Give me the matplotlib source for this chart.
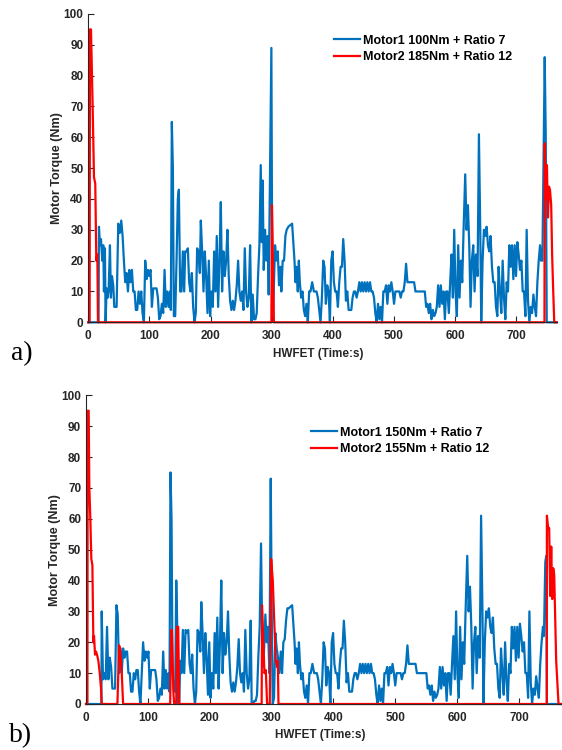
import matplotlib
matplotlib.use("Agg")
import matplotlib.pyplot as plt
import numpy as np

# (time s, torque Nm)
motor1_a_start = [
    (0, 0), (16.8, 0), (17.4, 31), (19.1, 25), (20.7, 27), (22.9, 20), (24.5, 25), (25.6, 10), (27.2, 24),
    (28.3, 0), (29.9, 11), (31.6, 8), (33.2, 10), (35.4, 25), (37.0, 8), (38.7, 15), (40.8, 12), (42.5, 5),
    (44.6, 5), (46.3, 5), (49.0, 32), (51.7, 29), (53.9, 33), (56.1, 28), (58.2, 20), (60.4, 13), (62.6, 16),
    (64.8, 10), (67.0, 17), (69.1, 13), (71.3, 17), (73.5, 10), (75.7, 10), (77.8, 4), (80.0, 4), (82.2, 10),
    (84.4, 6), (86.6, 10), (88.7, 3), (90.9, 0), (93.1, 20), (95.3, 14), (97.4, 17), (99.6, 15), (101.8, 17),
    (104.0, 5), (106.2, 11), (108.3, 11), (111.6, 11), (113.8, 8), (116.0, 1), (118.1, 2), (120.3, 6),
    (122.5, 3), (124.7, 17), (126.8, 5), (129.0, 10), (131.2, 5), (133.4, 10), (135.0, 4), (136.6, 65),
    (138.3, 50), (139.9, 2), (142.1, 2), (144.3, 20), (146.4, 40), (148.1, 43), (150.2, 10), (152.4, 10),
    (154.6, 23), (156.8, 10), (158.4, 23), (160.6, 23), (162.8, 24), (164.9, 13), (167.1, 10), (169.3, 16),
    (171.5, 5), (173.7, 0), (175.8, 3), (178.0, 24), (180.2, 23), (182.4, 16), (184.0, 33), (186.2, 23),
    (188.4, 10), (190.5, 23), (192.7, 15), (194.9, 3), (197.1, 20), (199.2, 2), (201.4, 10), (203.6, 5),
    (205.8, 23), (208.0, 10), (210.1, 28), (212.3, 5), (214.5, 20), (216.7, 39), (218.8, 10), (221.0, 23),
    (223.2, 15), (225.4, 20), (227.5, 30), (229.7, 15), (231.9, 7), (234.1, 4), (236.3, 7), (238.4, 4),
    (240.6, 7), (242.8, 12), (245.0, 20), (247.1, 10), (249.3, 7), (251.5, 10), (253.7, 4), (255.9, 24),
    (258.0, 10), (260.2, 5), (262.4, 8), (264.6, 25), (266.7, 0), (268.9, 9), (271.1, 1), (273.3, 1),
    (275.4, 3), (277.6, 15), (279.8, 25), (282.0, 51), (283.6, 26), (285.2, 46), (286.9, 17), (289.1, 30),
    (291.2, 20), (293.4, 28), (295.0, 9), (297.2, 50), (299.4, 89), (301.0, 2), (302.1, 2), (305.4, 25),
    (307.6, 20), (309.8, 23), (311.9, 12), (314.1, 18), (315.7, 10), (317.9, 20), (320.1, 20), (322.3, 28),
    (324.4, 30), (327.2, 31),
]

motor1_b_start = [
    (0, 0), (24.9, 0), (25.4, 30), (27.5, 8), (29.7, 10), (31.8, 8), (34.0, 25), (36.2, 8), (38.4, 15),
    (40.6, 12), (42.7, 5), (44.8, 5), (47.0, 5), (49.2, 32), (51.3, 29), (53.5, 10), (55.7, 18), (57.8, 10),
    (60.0, 18), (62.2, 15), (64.3, 17), (66.4, 17), (68.6, 10), (70.8, 10), (72.9, 4), (75.1, 4), (77.3, 10),
    (79.5, 8), (81.5, 11), (83.7, 11), (85.9, 4), (88.0, 0), (90.2, 10), (92.3, 20), (94.6, 14), (96.6, 17),
    (98.8, 15), (101.0, 17), (103.1, 5), (105.3, 11), (111.8, 11), (113.9, 8), (116.1, 1), (118.2, 2),
    (120.4, 5), (122.6, 3), (124.8, 17), (126.9, 5), (129.0, 11), (131.2, 5), (133.3, 10), (135.0, 4),
    (136.6, 75), (138.3, 60), (139.9, 10), (142.0, 4), (144.2, 4), (145.9, 40), (147.5, 25), (149.0, 0),
    (150.7, 0), (152.4, 14), (154.5, 10), (156.6, 24), (158.8, 10), (161.0, 24), (163.2, 23), (165.3, 24),
    (167.5, 13), (169.6, 10), (171.7, 16), (173.9, 5), (176.1, 0), (178.2, 4), (180.4, 24), (182.6, 23),
    (184.8, 17), (186.4, 33), (188.5, 23), (190.7, 10), (192.9, 23), (195.0, 15), (197.2, 3), (199.3, 20),
    (201.4, 2), (203.6, 10), (205.8, 5), (208.0, 23), (210.1, 10), (212.3, 28), (214.4, 5), (216.6, 20),
    (218.7, 40), (220.9, 10), (223.1, 23), (225.2, 16), (227.4, 20), (229.6, 30), (231.7, 16), (233.8, 7),
    (236.0, 4), (238.2, 7), (240.3, 4), (242.5, 7), (244.7, 12), (246.9, 21), (249.0, 10), (251.1, 7),
    (253.3, 10), (255.4, 4), (257.6, 24), (259.8, 10), (262.0, 5), (264.1, 8), (266.3, 27), (267.9, 0),
    (270.0, 0), (272.2, 1), (274.4, 1), (276.5, 3), (278.6, 15), (280.8, 25), (283.0, 52), (284.6, 27),
    (286.2, 12), (287.8, 17), (290.0, 29), (292.2, 20), (294.3, 25), (296.5, 10), (298.7, 73), (300.3, 30),
    (301.9, 0), (304.0, 2), (306.2, 23), (308.3, 18), (310.5, 15), (312.7, 10), (314.9, 17), (317.0, 10),
    (319.1, 20), (321.3, 21), (323.4, 27), (325.6, 31), (327.8, 31),
]

# same drive cycle in both cases between ~333 s and ~739 s
motor1_cruise = [
    (333.3, 32), (337.2, 20), (338.8, 13), (340.4, 18), (342.6, 10), (344.3, 20), (345.9, 13), (348.1, 8),
    (350.3, 10), (352.5, 4), (354.6, 2), (356.8, 6), (359.0, 0), (361.2, 10), (363.4, 10), (366.1, 13),
    (368.9, 10), (373.2, 10), (375.4, 8), (377.6, 4), (379.8, 0), (382.0, 8), (384.2, 20), (386.3, 18),
    (388.5, 6), (390.7, 12), (392.9, 10), (395.1, 0), (397.3, 20), (399.5, 23), (401.6, 13), (403.8, 10),
    (406.0, 10), (408.2, 5), (410.4, 13), (412.6, 18), (414.8, 18), (416.9, 27), (419.1, 20), (421.3, 7),
    (423.5, 10), (425.7, 4), (430.1, 4), (432.2, 8), (434.4, 10), (436.6, 10), (438.8, 8), (441.0, 10),
    (443.2, 13), (445.4, 10), (447.5, 13), (449.7, 10), (451.9, 13), (454.1, 10), (456.3, 13), (458.5, 10),
    (460.7, 13), (462.8, 10), (465.0, 10), (467.2, 8), (469.4, 3), (471.6, 0), (473.8, 6), (476.0, 1),
    (478.1, 5), (480.3, 0), (482.5, 10), (484.7, 10), (486.9, 12), (489.1, 6), (491.3, 12), (493.4, 10),
    (495.6, 13), (497.8, 10), (500.0, 6), (502.2, 10), (508.7, 10), (510.9, 8), (513.1, 10), (515.3, 10),
    (517.5, 13), (519.7, 19), (521.9, 13), (532.8, 13), (535.0, 10), (550.3, 10), (552.5, 5), (554.6, 6),
    (556.8, 3), (559.0, 6), (561.2, 1), (563.4, 4), (565.6, 2), (567.8, 3), (569.9, 5), (572.1, 12),
    (574.3, 5), (576.5, 12), (578.7, 6), (580.9, 10), (583.1, 1), (585.2, 10), (587.4, 10), (589.6, 3),
    (591.8, 13), (594.0, 22), (596.2, 8), (598.4, 30), (600.5, 10), (602.7, 2), (604.9, 25), (607.1, 8),
    (609.3, 20), (611.5, 13), (613.7, 30), (616.4, 48), (618.6, 30), (620.8, 38), (623.0, 25), (625.1, 5),
    (627.3, 20), (629.5, 25), (631.7, 10), (633.9, 22), (636.6, 15), (638.8, 61), (641.0, 30), (642.6, 0),
    (644.8, 20), (647.0, 30), (649.2, 28), (651.4, 31), (653.6, 25), (655.7, 23), (657.9, 28), (660.1, 18),
    (662.3, 13), (664.5, 13), (666.7, 5), (668.9, 2), (671.0, 18), (673.2, 10), (675.4, 3), (677.6, 20),
    (679.8, 8), (682.0, 1), (684.2, 13), (686.3, 10), (688.5, 25), (690.7, 18), (692.9, 25), (695.1, 14),
    (697.3, 25), (699.5, 15), (701.6, 26), (703.8, 22), (706.0, 17), (708.2, 20), (710.4, 10), (712.6, 10),
    (714.8, 2), (716.9, 30), (719.1, 7), (721.3, 0), (723.5, 5), (725.7, 3), (727.9, 9), (730.1, 5),
    (732.2, 2), (734.4, 13), (736.6, 20), (738.8, 25),
]

motor1_a_end = [(740.4, 20), (742.6, 20), (744.8, 60), (746.4, 86), (748.1, 60), (749.7, 0), (766, 0)]
motor1_b_end = [(740.4, 22), (742.6, 46), (744.2, 48), (745.2, 0), (768, 0)]

motor2_a = [
    (0, 0), (2.2, 0), (2.7, 95), (4.4, 95), (7.1, 70), (9.3, 47), (11.4, 45), (13.1, 20), (14.8, 22),
    (15.8, 0), (299.4, 0), (300.3, 38), (302.0, 20), (303.5, 0), (746.0, 0), (746.4, 58), (748.3, 40),
    (750.0, 51), (751.7, 34), (753.4, 44), (755.0, 43), (757.0, 38), (758.5, 22), (760.0, 12), (762.0, 0),
    (766, 0),
]

motor2_b = [
    (0, 0), (2.3, 0), (2.7, 95), (4.3, 95), (5.4, 70), (7.0, 60), (8.6, 47), (10.3, 45), (11.9, 20),
    (13.0, 22), (14.6, 16), (16.2, 17), (17.8, 16), (20.0, 14), (22.2, 10), (24.3, 5), (25.4, 0),
    (50.8, 0), (53.5, 19), (55.1, 18), (57.8, 10), (60.0, 0), (136.1, 0), (137.8, 24), (138.8, 24),
    (141.5, 3), (142.6, 0), (145.9, 0), (147.0, 25), (149.1, 25), (150.7, 0), (284.0, 0), (284.7, 32),
    (288.5, 10), (290.7, 11), (292.8, 0), (297.1, 0), (299.3, 47), (302.0, 40), (304.7, 25), (306.9, 14),
    (309.0, 12), (310.1, 14), (311.2, 0), (745.0, 0), (745.2, 61), (747.3, 57), (748.9, 57), (750.5, 35),
    (752.2, 51), (753.8, 34), (755.4, 44), (757.0, 42), (760.2, 14), (764.0, 0), (768, 0),
]

labels_a = ["Motor1 100Nm + Ratio 7", "Motor2 185Nm + Ratio 12"]
labels_b = ["Motor1 150Nm + Ratio 7", "Motor2 155Nm + Ratio 12"]

plt.rcParams['font.family'] = ['Liberation Sans', 'DejaVu Sans']
plt.rcParams['font.weight'] = 'bold'

BLUE = '#0072BD'
RED = '#FF0000'
W, H = 562, 750

fig = plt.figure(figsize=(W / 100, H / 100), dpi=100)


def panel(rect, m1, m2, labels, xmax, leg_xy, ylab_x, xlab_xy):
    ax = fig.add_axes(rect)
    t1, v1 = np.array(m1).T
    t2, v2 = np.array(m2).T
    ax.plot(t1, v1, color=BLUE, lw=1.6, label=labels[0], clip_on=False)
    ax.plot(t2, v2, color=RED, lw=1.6, label=labels[1], clip_on=False)
    ax.set_xlim(0, xmax)
    ax.set_ylim(0, 100)
    ax.set_xticks(range(0, 701, 100))
    ax.set_yticks(range(0, 101, 10))
    for s in ['top', 'right']:
        ax.spines[s].set_visible(False)
    for s in ['left', 'bottom']:
        ax.spines[s].set_color('#262626')
        ax.spines[s].set_linewidth(0.8)
    ax.tick_params(direction='in', length=4, width=0.8, colors='#262626', labelsize=8.5)
    ax.tick_params(axis='x', pad=5.5)
    ax.tick_params(axis='y', pad=3.5)
    ax.set_ylabel('Motor Torque (Nm)', fontsize=9, fontweight='bold', color='#262626')
    ax.yaxis.set_label_coords(ylab_x, 0.5)
    ax.set_xlabel('HWFET (Time:s)', fontsize=8.5, fontweight='bold', color='#262626')
    ax.xaxis.label.set_verticalalignment('center')
    ax.xaxis.set_label_coords(*xlab_xy)
    ax.legend(loc='upper left', bbox_to_anchor=(leg_xy[0] / W, 1 - leg_xy[1] / H),
              bbox_transform=fig.transFigure, frameon=False, fontsize=9,
              handlelength=2.1, handletextpad=0.25, labelspacing=0.35,
              borderpad=0, borderaxespad=0)
    return ax


panel([88.3 / W, 1 - 322.3 / H, (556.7 - 88.3) / W, 308.3 / H],
      motor1_a_start + motor1_cruise + motor1_a_end, motor2_a, labels_a, 766,
      (334, 34.8), -0.054, (0.49, -0.103))
panel([86 / W, 1 - 704 / H, (561 - 86) / W, 308.7 / H],
      motor1_b_start + motor1_cruise + motor1_b_end, motor2_b, labels_b, 768,
      (311, 426.8), -0.053, (0.493, -0.1))

fig.text(11 / W, 1 - 354 / H, 'a)', fontsize=20, family='Liberation Serif', weight='normal', va='center')
fig.text(9 / W, 1 - 736 / H, 'b)', fontsize=20, family='Liberation Serif', weight='normal', va='center')

fig.savefig('out.png', dpi=100)
